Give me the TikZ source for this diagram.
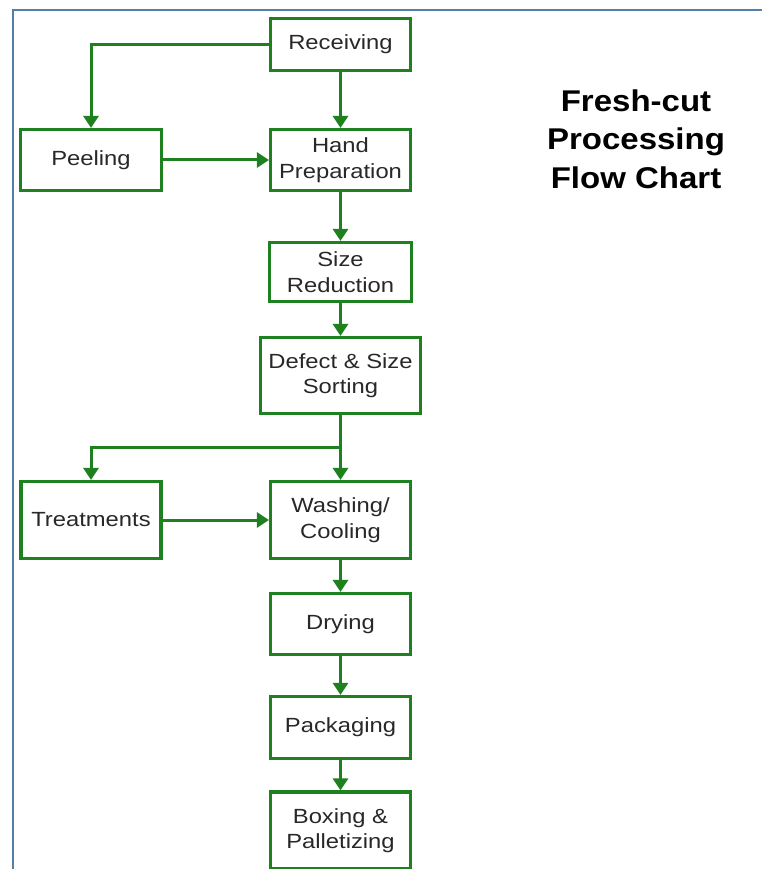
\documentclass[tikz,border=0pt]{standalone}
\usepackage{fontspec}
\setmainfont{Liberation Sans}
\newfontfamily\boxfont[FakeStretch=1.16]{Liberation Sans}
\newfontfamily\titlefont[FakeStretch=1.1]{Liberation Sans}
\usetikzlibrary{arrows.meta}
\definecolor{flowgreen}{RGB}{30,128,30}
\definecolor{framecol}{RGB}{84,128,168}
\definecolor{txt}{RGB}{40,40,40}
\tikzset{
  stepbox/.style={draw=flowgreen, line width=3.2pt, fill=white, align=center,
    text=txt, font=\boxfont\fontsize{20.5}{25.5}\selectfont,
    minimum width=140pt, minimum height=61pt, inner sep=0pt},
  flow/.style={draw=flowgreen, line width=3pt,
    -{Triangle[width=15pt,length=12pt]}},
  plain/.style={draw=flowgreen, line width=3pt}
}
\begin{document}
\begin{tikzpicture}[x=1pt,y=-1pt]
\useasboundingbox (0,0) rectangle (761,869);
\fill[white] (0,0) rectangle (761,869);
% frame
\draw[framecol, line width=2.6pt] (13,872) -- (13,10) -- (765,10);

% nodes
\node[stepbox, minimum height=52pt] (rec) at (340.5,44.5) {Receiving};
\node[stepbox, minimum width=141pt] (peel) at (91,160) {Peeling};
\node[stepbox] (hand) at (340.5,160) {Hand\\Preparation};
\node[stepbox, minimum width=142pt, minimum height=59pt] (size) at (340.5,272) {Size\\Reduction};
\node[stepbox, minimum width=160pt, minimum height=76pt] (defect) at (340.5,375.5) {Defect \& Size\\Sorting};
\node[stepbox, minimum height=77pt] (treat) at (91,520) {Treatments};
\node[stepbox, minimum height=77pt] (wash) at (340.5,520) {Washing/\\Cooling};
\node[stepbox] (dry) at (340.5,624) {Drying};
\node[stepbox, minimum height=62pt] (pack) at (340.5,727.5) {Packaging};
\node[stepbox, minimum height=77pt] (box) at (340.5,830.5) {Boxing \&\\Palletizing};

% title
\node[text=black, align=center, font=\titlefont\bfseries\fontsize{30}{38.5}\selectfont] (title) at (636,139) {Fresh-cut\\Processing\\Flow Chart};

% connectors
\coordinate (c1) at (91,44.5);
\draw[flow] (rec.west) -- (c1) -- (peel.north);
\draw[flow] (rec.south) -- (hand.north);
\draw[flow] (peel.east) -- (hand.west);
\draw[flow] (hand.south) -- (size.north);
\draw[flow] (size.south) -- (defect.north);
\coordinate (split) at (340.5,447);
\coordinate (c2) at (91,447);
\draw[flow] (defect.south) -- (wash.north);
\draw[flow] (split) -- (c2) -- (treat.north);
\draw[flow] (treat.east) -- (wash.west);
\draw[flow] (wash.south) -- (dry.north);
\draw[flow] (dry.south) -- (pack.north);
\draw[flow] (pack.south) -- (box.north);
\end{tikzpicture}
\end{document}
